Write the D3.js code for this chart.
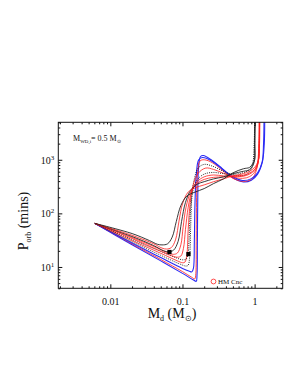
<!DOCTYPE html>
<html>
<head>
<meta charset="utf-8">
<script src="https://cdn.jsdelivr.net/npm/d3@7"></script>
<style>
body { margin: 0; background: #fff; }
text { font-family: 'Liberation Serif', 'Times New Roman', serif; fill: #111; }
</style>
</head>
<body>
<script>
// tick values and labels
const xTicks = [0.01, 0.1, 1]
const xTickLabels = ['0.01', '0.1', '1']
const yTicks = [10, 100, 1000]
const yTickExps = ['1', '2', '3']

// evolutionary tracks, [M_d, P_orb] (bottom -> top at the left)
const blue_a = [[0.0061,65],[0.02,26],[0.05,13],[0.1,7.6],[0.14,5.8],[0.155,5.4],[0.159,7],[0.161,30],[0.163,200],[0.167,700],[0.178,1150],[0.195,1200],[0.25,1000],[0.35,700],[0.5,460],[0.7,385],[0.9,415],[1.1,540],[1.28,900],[1.36,2000],[1.38,6000]]
const red_a = [[0.0061,65],[0.02,27],[0.05,13.8],[0.1,8.2],[0.135,6.4],[0.148,6.0],[0.153,7.5],[0.155,30],[0.157,200],[0.162,600],[0.175,950],[0.2,1000],[0.26,880],[0.36,630],[0.5,450],[0.7,395],[0.9,430],[1.0,520],[1.12,900],[1.17,2000],[1.18,6000]]
const blue_b = [[0.0061,65],[0.02,28],[0.05,15],[0.1,9.4],[0.125,8.3],[0.135,8.1],[0.142,9.5],[0.146,30],[0.149,150],[0.155,500],[0.168,1000],[0.19,1100],[0.25,960],[0.35,680],[0.5,480],[0.68,410],[0.9,445],[1.1,570],[1.27,900],[1.33,2000],[1.35,6000]]
const dot_a = [[0.0061,65],[0.02,29.5],[0.05,16.5],[0.09,11.5],[0.112,10.4],[0.12,10.8],[0.126,16],[0.13,60],[0.135,200],[0.145,420],[0.165,700],[0.2,820],[0.26,760],[0.36,620],[0.5,530],[0.65,500],[0.8,550],[0.92,720],[0.97,950],[0.99,2000],[1.0,6000]]
const red_b = [[0.0061,65],[0.02,31],[0.05,18],[0.085,13],[0.1,12],[0.108,12.3],[0.115,17],[0.12,50],[0.128,160],[0.14,330],[0.165,560],[0.21,700],[0.27,660],[0.37,560],[0.5,480],[0.68,450],[0.85,485],[1.0,590],[1.12,900],[1.16,2000],[1.17,6000]]
const dot_b = [[0.0061,65],[0.02,32.5],[0.05,19.5],[0.08,15],[0.1,13.6],[0.112,14],[0.119,16.5],[0.123,30],[0.128,100],[0.138,250],[0.16,420],[0.2,540],[0.27,580],[0.37,550],[0.5,540],[0.65,560],[0.8,620],[0.9,730],[0.96,1000],[0.99,2000],[1.0,6000]]
const red_c = [[0.0061,65],[0.02,34],[0.045,21],[0.07,16.3],[0.085,15.2],[0.095,16],[0.103,22],[0.11,50],[0.12,130],[0.135,260],[0.16,390],[0.2,480],[0.27,520],[0.37,500],[0.5,490],[0.68,490],[0.85,540],[1.0,640],[1.1,900],[1.14,2000],[1.15,6000]]
const red_d = [[0.0061,65],[0.02,35.5],[0.045,22.5],[0.065,18],[0.075,17.2],[0.085,18.2],[0.095,26],[0.102,55],[0.112,130],[0.13,250],[0.16,360],[0.2,430],[0.27,470],[0.37,480],[0.5,500],[0.7,515],[0.85,565],[1.0,660],[1.12,900],[1.16,2000],[1.17,6000]]
const black_a = [[0.0061,65],[0.02,37],[0.04,25],[0.055,20],[0.064,19.2],[0.075,20.5],[0.087,30],[0.097,70],[0.11,160],[0.13,270],[0.16,350],[0.2,390],[0.27,440],[0.37,480],[0.5,550],[0.7,610],[0.85,650],[0.95,790],[1.0,1000],[1.01,2000],[1.02,6000]]
const red_e = [[0.0061,65],[0.02,39],[0.04,27],[0.052,22.5],[0.06,21.6],[0.07,23],[0.08,32],[0.09,75],[0.1,150],[0.12,250],[0.15,300],[0.2,340],[0.27,390],[0.37,440],[0.5,500],[0.7,550],[0.85,610],[1.0,720],[1.12,950],[1.16,2000],[1.17,6000]]
const black_b = [[0.0061,65],[0.02,42],[0.035,31],[0.045,26.5],[0.052,25.8],[0.062,27],[0.072,36],[0.082,70],[0.095,140],[0.115,210],[0.15,250],[0.2,290],[0.27,360],[0.37,440],[0.5,570],[0.7,680],[0.85,720],[0.95,860],[1.0,1000],[1.0,2000],[1.005,6000]]

const trackKinds = ['blue', 'red', 'blue', 'dotted', 'red', 'dotted', 'red', 'red', 'black', 'red', 'black']
const tracks = [blue_a, red_a, blue_b, dot_a, red_b, dot_b, red_c, red_d, black_a, red_e, black_b]

// marked points on the tracks
const markedPoints = [[0.066, 19], [0.121, 17.4]]

let width = 298, height = 385
let plot = {left: 58.3, right: 282.7, top: 122.3, bottom: 288.3}

let svg = d3.select('body').append('svg')
    .attr('width', width)
    .attr('height', height)

let xScale = d3.scaleLog().domain([0.0019, 2.45]).range([plot.left, plot.right])
let yScale = d3.scaleLog().domain([4, 5000]).range([plot.bottom, plot.top])

let styleOf = {
    blue: {stroke: '#2b2bf5', dash: null, w: 1.1},
    red: {stroke: '#ff1a1a', dash: null, w: 0.8},
    black: {stroke: '#222', dash: null, w: 0.9},
    dotted: {stroke: '#111', dash: '1,1.2', w: 0.9}
}

svg.append('clipPath').attr('id', 'clip')
    .append('rect')
    .attr('x', plot.left).attr('y', plot.top)
    .attr('width', plot.right - plot.left).attr('height', plot.bottom - plot.top)

let line = d3.line()
    .x(d => xScale(d[0]))
    .y(d => yScale(d[1]))
    .curve(d3.curveCatmullRom.alpha(0.5))

let lines_g = svg.append('g').attr('clip-path', 'url(#clip)')

tracks.forEach((t, i) => {
    let s = styleOf[trackKinds[i]]
    lines_g.append('path')
        .datum(t)
        .attr('d', line)
        .style('fill', 'none')
        .style('stroke', s.stroke)
        .style('stroke-width', s.w)
        .style('stroke-dasharray', s.dash)
})

svg.append('g').selectAll('path.pt')
    .data(markedPoints)
    .join('path')
    .attr('class', 'pt')
    .attr('transform', d => 'translate(' + xScale(d[0]) + ',' + yScale(d[1]) + ')')
    .attr('d', d3.symbol(d3.symbolSquare, 18))
    .style('fill', '#000')

// frame
svg.append('rect')
    .attr('x', plot.left).attr('y', plot.top)
    .attr('width', plot.right - plot.left).attr('height', plot.bottom - plot.top)
    .style('fill', 'none').style('stroke', '#111').style('stroke-width', 1)

// inward ticks on all four sides
let xMinor = xScale.ticks().filter(d => xTicks.indexOf(d) < 0)
let yMinor = yScale.ticks().filter(d => yTicks.indexOf(d) < 0)

let addAxis = (axis, tr) => {
    let g = svg.append('g').attr('transform', tr).call(axis)
    g.select('.domain').remove()
    g.selectAll('line').style('stroke', '#111')
    return g
}

let bottomAx = addAxis(d3.axisBottom(xScale).tickValues(xTicks).tickSize(-4).tickPadding(10)
    .tickFormat((d, i) => xTickLabels[i]), 'translate(0,' + plot.bottom + ')')
bottomAx.selectAll('text').attr('font-size', 10).attr('font-family', "'Liberation Serif', serif")
addAxis(d3.axisBottom(xScale).tickValues(xMinor).tickSize(-2).tickFormat(''), 'translate(0,' + plot.bottom + ')')
addAxis(d3.axisTop(xScale).tickValues(xTicks).tickSize(-4).tickFormat(''), 'translate(0,' + plot.top + ')')
addAxis(d3.axisTop(xScale).tickValues(xMinor).tickSize(-2).tickFormat(''), 'translate(0,' + plot.top + ')')

let leftAx = addAxis(d3.axisLeft(yScale).tickValues(yTicks).tickSize(-4).tickPadding(10)
    .tickFormat(''), 'translate(' + plot.left + ',0)')
leftAx.selectAll('.tick').append('text')
    .attr('x', -4)
    .attr('dy', '0.35em')
    .attr('text-anchor', 'end')
    .attr('font-size', 10)
    .each(function(d, i) {
        let t = d3.select(this)
        t.append('tspan').text('10')
        t.append('tspan').attr('dy', -4).attr('font-size', 7).text(yTickExps[i])
    })
addAxis(d3.axisLeft(yScale).tickValues(yMinor).tickSize(-2).tickFormat(''), 'translate(' + plot.left + ',0)')
addAxis(d3.axisRight(yScale).tickValues(yTicks).tickSize(-4).tickFormat(''), 'translate(' + plot.right + ',0)')
addAxis(d3.axisRight(yScale).tickValues(yMinor).tickSize(-2).tickFormat(''), 'translate(' + plot.right + ',0)')

// axis titles
let xl = svg.append('text')
    .attr('x', 172).attr('y', 318)
    .attr('text-anchor', 'middle')
    .attr('font-size', 14)
xl.append('tspan').text('M')
xl.append('tspan').attr('dy', 3).attr('font-size', 8).text('d')
xl.append('tspan').attr('dy', -3).text(' (M')
xl.append('tspan').attr('dy', 3).attr('font-size', 8).text('\u2299')
xl.append('tspan').attr('dy', -3).text(')')

let yl = svg.append('text')
    .attr('transform', 'translate(28,221) rotate(-90)')
    .attr('text-anchor', 'middle')
    .attr('font-size', 14)
yl.append('tspan').text('P')
yl.append('tspan').attr('dy', 3).attr('font-size', 8).text('orb')
yl.append('tspan').attr('dy', -3).text(' (mins)')

// annotation
let ann = svg.append('text')
    .attr('x', 73).attr('y', 141)
    .attr('font-size', 8)
ann.append('tspan').text('M')
ann.append('tspan').attr('dy', 2).attr('font-size', 5).text('WD,i')
ann.append('tspan').attr('dy', -2).text('= 0.5 M')
ann.append('tspan').attr('dy', 2).attr('font-size', 5).text('\u2299')

// HM Cnc legend
svg.append('circle')
    .attr('cx', 213.5).attr('cy', 281.5).attr('r', 2.4)
    .style('fill', 'none').style('stroke', '#ff2020').style('stroke-width', 0.8)
svg.append('text')
    .attr('x', 218).attr('y', 284)
    .attr('font-size', 7)
    .text('HM Cnc')
</script>
</body>
</html>
